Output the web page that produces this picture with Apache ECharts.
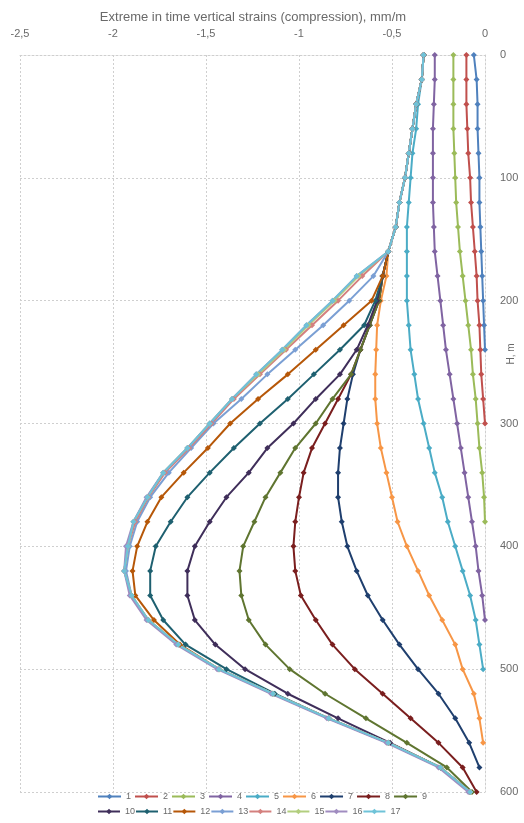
<!DOCTYPE html>
<html>
<head>
<meta charset="utf-8">
<script src="https://cdn.jsdelivr.net/npm/echarts@6/dist/echarts.min.js"></script>
<style>
  html, body { margin: 0; padding: 0; background: #fff; }
  #chart { width: 524px; height: 823px; }
</style>
</head>
<body>
<div id="chart"></div>
<script>
// Depth below surface, m (one reading every 20 m)
const depths = [0,20,40,60,80,100,120,140,160,180,200,220,240,260,280,300,
                320,340,360,380,400,420,440,460,480,500,520,540,560,580,600];

// Strain tick labels (comma decimals)
const strainTicks = { '-2.5': '-2,5', '-2': '-2', '-1.5': '-1,5', '-1': '-1', '-0.5': '-0,5', '0': '0' };

// Extreme vertical strains per case, mm/m, starting at H = 0 every 20 m
const s1 = [-0.06,-0.045,-0.04,-0.04,-0.035,-0.03,-0.03,-0.025,-0.02,-0.015,-0.01,-0.005,0];
const s2 = [-0.10,-0.10,-0.10,-0.095,-0.09,-0.08,-0.075,-0.065,-0.055,-0.045,-0.04,-0.03,-0.025,-0.02,-0.01,0];
const s3 = [-0.17,-0.17,-0.17,-0.17,-0.165,-0.16,-0.155,-0.145,-0.135,-0.12,-0.105,-0.09,-0.075,-0.065,-0.05,-0.04,-0.03,-0.015,-0.005,0];
const s4 = [-0.27,-0.27,-0.275,-0.28,-0.28,-0.28,-0.28,-0.275,-0.27,-0.255,-0.24,-0.225,-0.21,-0.19,-0.17,-0.15,-0.13,-0.11,-0.09,-0.07,-0.05,-0.035,-0.015,0];
const s5 = [-0.33,-0.34,-0.36,-0.37,-0.39,-0.40,-0.41,-0.42,-0.42,-0.42,-0.42,-0.41,-0.40,-0.38,-0.36,-0.33,-0.30,-0.27,-0.23,-0.20,-0.16,-0.12,-0.08,-0.05,-0.03,-0.01];
const s6 = [-0.33,-0.34,-0.37,-0.39,-0.41,-0.43,-0.46,-0.48,-0.52,-0.53,-0.56,-0.58,-0.585,-0.59,-0.59,-0.58,-0.56,-0.53,-0.50,-0.47,-0.42,-0.36,-0.30,-0.23,-0.16,-0.12,-0.06,-0.03,-0.01];
const s7 = [-0.33,-0.34,-0.37,-0.39,-0.41,-0.43,-0.46,-0.48,-0.52,-0.55,-0.57,-0.62,-0.67,-0.71,-0.74,-0.76,-0.78,-0.79,-0.79,-0.77,-0.74,-0.69,-0.63,-0.55,-0.46,-0.36,-0.25,-0.16,-0.085,-0.03];
const s8 = [-0.33,-0.34,-0.37,-0.39,-0.41,-0.43,-0.46,-0.48,-0.52,-0.55,-0.57,-0.62,-0.67,-0.72,-0.79,-0.86,-0.93,-0.975,-1.00,-1.02,-1.03,-1.02,-0.99,-0.91,-0.82,-0.70,-0.55,-0.40,-0.25,-0.12,-0.045];
const s9 = [-0.33,-0.34,-0.37,-0.39,-0.41,-0.43,-0.46,-0.48,-0.52,-0.55,-0.57,-0.62,-0.67,-0.72,-0.82,-0.91,-1.02,-1.10,-1.18,-1.24,-1.30,-1.32,-1.31,-1.27,-1.18,-1.05,-0.86,-0.64,-0.42,-0.205,-0.07];
const s10 = [-0.33,-0.34,-0.37,-0.39,-0.41,-0.43,-0.46,-0.48,-0.52,-0.55,-0.58,-0.63,-0.69,-0.78,-0.91,-1.03,-1.17,-1.27,-1.39,-1.48,-1.56,-1.60,-1.60,-1.56,-1.45,-1.29,-1.06,-0.79,-0.51,-0.24,-0.08];
const s11 = [-0.33,-0.34,-0.37,-0.39,-0.41,-0.43,-0.46,-0.48,-0.52,-0.55,-0.59,-0.65,-0.78,-0.92,-1.06,-1.21,-1.35,-1.48,-1.60,-1.69,-1.77,-1.80,-1.80,-1.73,-1.61,-1.39,-1.13,-0.84,-0.52,-0.24,-0.08];
const s12 = [-0.33,-0.34,-0.37,-0.39,-0.41,-0.43,-0.46,-0.48,-0.52,-0.55,-0.61,-0.76,-0.91,-1.06,-1.22,-1.37,-1.49,-1.62,-1.74,-1.815,-1.87,-1.895,-1.88,-1.78,-1.64,-1.43,-1.14,-0.84,-0.52,-0.24,-0.08];
const s13 = [-0.33,-0.34,-0.37,-0.39,-0.41,-0.43,-0.46,-0.48,-0.52,-0.60,-0.73,-0.87,-1.02,-1.17,-1.31,-1.46,-1.58,-1.70,-1.80,-1.87,-1.91,-1.93,-1.90,-1.81,-1.65,-1.43,-1.14,-0.84,-0.52,-0.24,-0.08];
const s14 = [-0.33,-0.34,-0.37,-0.39,-0.41,-0.43,-0.46,-0.48,-0.52,-0.66,-0.79,-0.93,-1.07,-1.21,-1.35,-1.47,-1.59,-1.72,-1.81,-1.88,-1.92,-1.94,-1.90,-1.81,-1.65,-1.43,-1.14,-0.84,-0.52,-0.24,-0.08];
const s15 = [-0.33,-0.34,-0.37,-0.39,-0.41,-0.43,-0.46,-0.48,-0.52,-0.68,-0.81,-0.95,-1.08,-1.22,-1.36,-1.48,-1.60,-1.73,-1.815,-1.89,-1.92,-1.94,-1.90,-1.81,-1.65,-1.43,-1.14,-0.84,-0.52,-0.24,-0.08];
const s16 = [-0.33,-0.34,-0.37,-0.39,-0.41,-0.43,-0.46,-0.48,-0.52,-0.69,-0.82,-0.96,-1.09,-1.23,-1.36,-1.48,-1.60,-1.73,-1.82,-1.89,-1.93,-1.94,-1.91,-1.82,-1.66,-1.44,-1.15,-0.85,-0.53,-0.25,-0.09];
const s17 = [-0.33,-0.34,-0.37,-0.39,-0.41,-0.43,-0.46,-0.48,-0.52,-0.69,-0.82,-0.96,-1.09,-1.23,-1.36,-1.48,-1.60,-1.73,-1.815,-1.89,-1.92,-1.94,-1.90,-1.81,-1.65,-1.43,-1.14,-0.84,-0.52,-0.24,-0.08];

const seriesNames = ['1','2','3','4','5','6','7','8','9','10','11','12','13','14','15','16','17'];
const seriesValues = [s1,s2,s3,s4,s5,s6,s7,s8,s9,s10,s11,s12,s13,s14,s15,s16,s17];
const seriesColors = ['#4F81BD','#C0504D','#9BBB59','#8064A2','#4BACC6','#F79646',
                      '#1F3F6E','#7A1E1E','#5F7530','#3F2E5A','#1E6070','#B65708',
                      '#7A9FD4','#D4807E','#B2CE7E','#A08CC0','#6FC3D8'];

const labelColor = '#6a6a6a';
const gridLine = { color: '#cfcfcf', type: [2, 2], width: 1 };

const series = seriesValues.map((vals, i) => ({
  name: seriesNames[i],
  type: 'line',
  data: vals.map((v, k) => [v, depths[k]]),
  symbol: 'diamond',
  symbolSize: 6,
  color: seriesColors[i],
  lineStyle: { width: 2 },
  animation: false
}));

const chart = echarts.init(document.getElementById('chart'), null, { renderer: 'canvas' });
chart.setOption({
  backgroundColor: '#ffffff',
  animation: false,
  title: {
    text: 'Extreme in time vertical strains (compression), mm/m',
    left: 248, top: 6, textAlign: 'center',
    textStyle: { fontFamily: 'Liberation Sans', fontSize: 13, fontWeight: 'normal', color: labelColor }
  },
  grid: { left: 20, right: 39, top: 55, bottom: 31 },
  xAxis: {
    type: 'value', position: 'top',
    min: -2.5, max: 0, interval: 0.5,
    axisLine: { show: true, lineStyle: gridLine },
    axisTick: { show: false },
    axisLabel: {
      margin: 16, color: labelColor, fontFamily: 'Liberation Sans', fontSize: 11,
      formatter: v => strainTicks[String(v)] ?? String(v)
    },
    splitLine: { show: true, lineStyle: gridLine }
  },
  yAxis: {
    type: 'value', position: 'right', inverse: true,
    min: 0, max: 600, interval: 100,
    axisLine: { show: true, lineStyle: gridLine },
    axisTick: { show: false },
    axisLabel: { margin: 15, color: labelColor, fontFamily: 'Liberation Sans', fontSize: 11 },
    splitLine: { show: true, lineStyle: gridLine }
  },
  graphic: [{
    type: 'text', x: 511, y: 354, rotation: Math.PI / 2,
    style: { text: 'H, m', fill: labelColor, font: '10px "Liberation Sans"', textAlign: 'center', textVerticalAlign: 'middle' }
  }],
  legend: [
    {
      data: seriesNames.slice(0, 9), left: 97, top: 792, padding: 0,
      itemWidth: 23, itemHeight: 7, itemGap: 3,
      textStyle: { fontSize: 9, color: labelColor, fontFamily: 'Liberation Sans' }
    },
    {
      data: seriesNames.slice(9), left: 97, top: 807, padding: 0,
      itemWidth: 22, itemHeight: 7, itemGap: 0,
      textStyle: { fontSize: 9, color: labelColor, fontFamily: 'Liberation Sans' }
    }
  ],
  series: series
});
</script>
</body>
</html>
